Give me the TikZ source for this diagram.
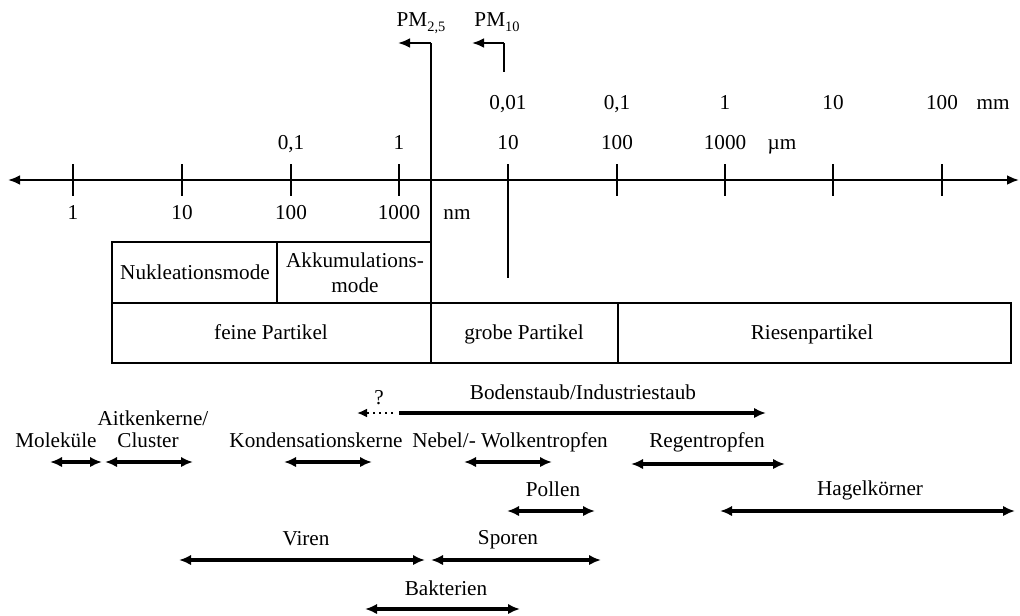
\documentclass[tikz,border=0pt]{standalone}
\usepackage{fontspec}
\setmainfont{Liberation Serif}
\usetikzlibrary{arrows.meta}
\newcommand\lowsub[1]{\raisebox{-0.55ex}{\fontsize{7.2}{8}\selectfont #1}}
\begin{document}
\begin{tikzpicture}[x=0.5pt,y=-0.5pt,
  font=\fontsize{10.6}{12.5}\selectfont,
  lbl/.style={inner sep=0pt, anchor=center, text height=6.5pt, text depth=2.5pt, yshift=-1.1pt},
  axisline/.style={line width=1.4pt, {Latex[length=6pt,width=5pt]}-{Latex[length=6pt,width=5pt]}},
  tick/.style={line width=1.1pt},
  frame/.style={line width=1.1pt},
  pmline/.style={line width=1.3pt},
  pmarrow/.style={line width=1.3pt, -{Latex[length=6pt,width=5pt]}},
  rng/.style={line width=1.6pt, {Latex[length=6pt,width=5.2pt]}-{Latex[length=6pt,width=5.2pt]}},
  rngright/.style={line width=1.6pt, -{Latex[length=6pt,width=5.2pt]}},
  dotarrow/.style={line width=1pt, dotted, -{Latex[length=5pt,width=4.5pt]}}
]
\useasboundingbox (0,0) rectangle (1020,615);

% axis
\coordinate (axL) at (8,180);
\coordinate (axR) at (1019,180);
\draw[axisline] (axL) -- (axR);
\foreach \xx/\nm in {73/t1,182/t2,291/t3,399/t4,617/t6,725/t7,833/t8,942/t9}{
  \coordinate (\nm a) at (\xx,164);
  \coordinate (\nm b) at (\xx,196);
  \draw[tick] (\nm a) -- (\nm b);
}
% 10 micrometre line
\coordinate (tenA) at (508,164);
\coordinate (tenB) at (508,278);
\draw[pmline] (tenA) -- (tenB);

% PM2.5
\coordinate (pmA) at (431,242);
\coordinate (pmB) at (431,43);
\coordinate (pmC) at (398,43);
\draw[pmline] (pmA) -- (pmB);
\draw[pmarrow] (pmB) -- (pmC);
\node[lbl] (pm25) at (421,20) {PM\lowsub{2,5}};
% PM10
\coordinate (pxA) at (504,72);
\coordinate (pxB) at (504,43);
\coordinate (pxC) at (472,43);
\draw[pmline] (pxA) -- (pxB);
\draw[pmarrow] (pxB) -- (pxC);
\node[lbl] (pm10) at (497,20) {PM\lowsub{10}};

% scale labels
\node[lbl] (mm1) at (508,103) {0,01};
\node[lbl] (mm2) at (617,103) {0,1};
\node[lbl] (mm3) at (725,103) {1};
\node[lbl] (mm4) at (833,103) {10};
\node[lbl] (mm5) at (942,103) {100};
\node[lbl] (mmU) at (993,103) {mm};
\node[lbl] (um1) at (291,143) {0,1};
\node[lbl] (um2) at (399,143) {1};
\node[lbl] (um3) at (508,143) {10};
\node[lbl] (um4) at (617,143) {100};
\node[lbl] (um5) at (725,143) {1000};
\node[lbl] (umU) at (782,143) {µm};
\node[lbl] (nm1) at (73,213) {1};
\node[lbl] (nm2) at (182,213) {10};
\node[lbl] (nm3) at (291,213) {100};
\node[lbl] (nm4) at (399,213) {1000};
\node[lbl] (nmU) at (457,213) {nm};

% boxes
\draw[frame] (112,242) rectangle (431,303);
\draw[frame] (277,242) -- (277,303);
\draw[frame] (112,303) rectangle (1011,363);
\draw[frame] (431,303) -- (431,363);
\draw[frame] (618,303) -- (618,363);
\node[lbl] (nuk) at (195,273) {Nukleationsmode};
\node[lbl] (akk1) at (355,261) {Akkumulations-};
\node[lbl] (akk2) at (355,286) {mode};
\node[lbl] (fein) at (271,333) {feine Partikel};
\node[lbl] (grob) at (524,333) {grobe Partikel};
\node[lbl] (ries) at (812,333) {Riesenpartikel};

% Bodenstaub
\node[lbl] (boden) at (583,393) {Bodenstaub/Industriestaub};
\node[lbl] (quest) at (379,398) {?};
\coordinate (bdA) at (393,413);
\coordinate (bdB) at (357,413);
\coordinate (bsA) at (399,413);
\coordinate (bsB) at (766,413);
\draw[dotarrow] (bdA) -- (bdB);
\draw[rngright] (bsA) -- (bsB);

% ranges row 1
\node[lbl] (mol) at (56,441) {Moleküle};
\node[lbl] (ait) at (153,419) {Aitkenkerne/};
\node[lbl] (clu) at (148,441) {Cluster};
\node[lbl] (kon) at (316,441) {Kondensationskerne};
\node[lbl] (neb) at (510,441) {Nebel/- Wolkentropfen};
\node[lbl] (reg) at (707,441) {Regentropfen};
\coordinate (molA) at (50,462);  \coordinate (molB) at (102,462);
\coordinate (aitA) at (105,462); \coordinate (aitB) at (193,462);
\coordinate (konA) at (284,462); \coordinate (konB) at (372,462);
\coordinate (nebA) at (464,462); \coordinate (nebB) at (552,462);
\coordinate (regA) at (631,464); \coordinate (regB) at (785,464);
\draw[rng] (molA) -- (molB);
\draw[rng] (aitA) -- (aitB);
\draw[rng] (konA) -- (konB);
\draw[rng] (nebA) -- (nebB);
\draw[rng] (regA) -- (regB);

% row 2
\node[lbl] (pol) at (553,490) {Pollen};
\node[lbl] (hag) at (870,489) {Hagelkörner};
\coordinate (polA) at (507,511); \coordinate (polB) at (595,511);
\coordinate (hagA) at (720,511); \coordinate (hagB) at (1015,511);
\draw[rng] (polA) -- (polB);
\draw[rng] (hagA) -- (hagB);

% row 3
\node[lbl] (vir) at (306,539) {Viren};
\node[lbl] (spo) at (508,538) {Sporen};
\coordinate (virA) at (179,560); \coordinate (virB) at (425,560);
\coordinate (spoA) at (431,560); \coordinate (spoB) at (601,560);
\draw[rng] (virA) -- (virB);
\draw[rng] (spoA) -- (spoB);

% row 4
\node[lbl] (bak) at (446,589) {Bakterien};
\coordinate (bakA) at (365,609); \coordinate (bakB) at (520,609);
\draw[rng] (bakA) -- (bakB);
\end{tikzpicture}
\end{document}
